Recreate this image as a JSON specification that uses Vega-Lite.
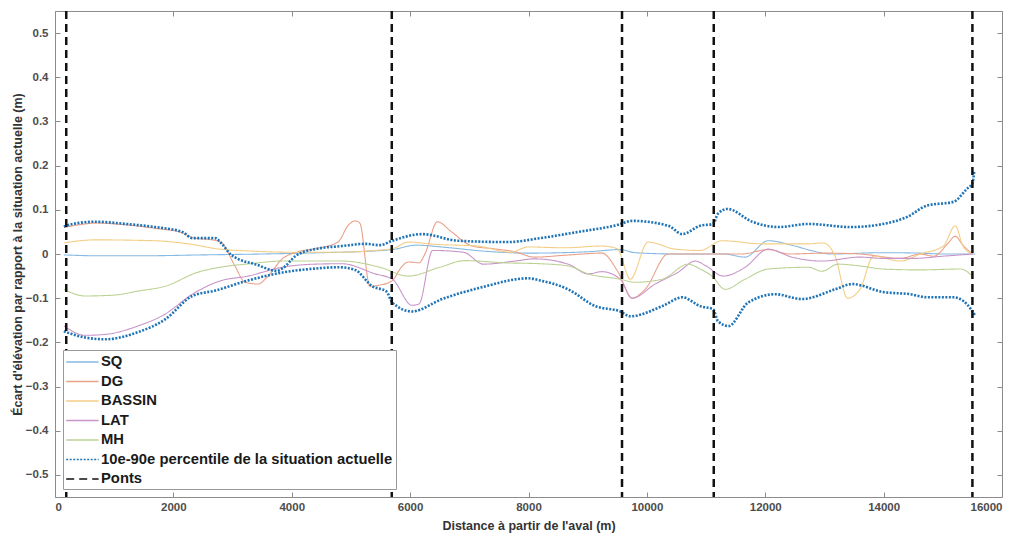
{
  "$schema": "https://vega.github.io/schema/vega-lite/v6.json",
  "width": 947,
  "height": 486,
  "autosize": "none",
  "padding": {"left": 55, "top": 11, "right": 19, "bottom": 41},
  "background": "white",
  "config": {"view": {"stroke": "#8c8c8c", "strokeWidth": 1}, "font": "Liberation Sans"},
  "datasets": {
    "lines": [
      {"s":"SQ","g":"SQ","x":150,"y":-0.002},{"s":"SQ","g":"SQ","x":700,"y":-0.004},{"s":"SQ","g":"SQ","x":1500,"y":-0.004},{"s":"SQ","g":"SQ","x":2500,"y":-0.002},{"s":"SQ","g":"SQ","x":3500,"y":0.0},{"s":"SQ","g":"SQ","x":4500,"y":0.003},{"s":"SQ","g":"SQ","x":5400,"y":0.007},{"s":"SQ","g":"SQ","x":5700,"y":0.01},{"s":"SQ","g":"SQ","x":6100,"y":0.02},{"s":"SQ","g":"SQ","x":6600,"y":0.015},{"s":"SQ","g":"SQ","x":7200,"y":0.007},{"s":"SQ","g":"SQ","x":8000,"y":0.002},{"s":"SQ","g":"SQ","x":9000,"y":0.005},{"s":"SQ","g":"SQ","x":9550,"y":0.01},{"s":"SQ","g":"SQ","x":9800,"y":0.003},{"s":"SQ","g":"SQ","x":10500,"y":0.0},{"s":"SQ","g":"SQ","x":11300,"y":0.0},{"s":"SQ","g":"SQ","x":11660,"y":-0.007},{"s":"SQ","g":"SQ","x":12050,"y":0.03},{"s":"SQ","g":"SQ","x":12500,"y":0.018},{"s":"SQ","g":"SQ","x":12800,"y":0.007},{"s":"SQ","g":"SQ","x":13100,"y":0.0},{"s":"SQ","g":"SQ","x":14000,"y":0.003},{"s":"SQ","g":"SQ","x":14600,"y":0.002},{"s":"SQ","g":"SQ","x":15000,"y":0.0},{"s":"SQ","g":"SQ","x":15550,"y":0.0},

      {"s":"DG","g":"DG","x":150,"y":0.06},{"s":"DG","g":"DG","x":400,"y":0.066},{"s":"DG","g":"DG","x":700,"y":0.07},{"s":"DG","g":"DG","x":1200,"y":0.066},{"s":"DG","g":"DG","x":1700,"y":0.058},{"s":"DG","g":"DG","x":2150,"y":0.048},{"s":"DG","g":"DG","x":2350,"y":0.036},{"s":"DG","g":"DG","x":2600,"y":0.033},{"s":"DG","g":"DG","x":2800,"y":0.027},{"s":"DG","g":"DG","x":3040,"y":-0.027},{"s":"DG","g":"DG","x":3210,"y":-0.064},{"s":"DG","g":"DG","x":3430,"y":-0.068},{"s":"DG","g":"DG","x":3600,"y":-0.05},{"s":"DG","g":"DG","x":3840,"y":-0.011},{"s":"DG","g":"DG","x":4100,"y":0.005},{"s":"DG","g":"DG","x":4400,"y":0.012},{"s":"DG","g":"DG","x":4780,"y":0.027},{"s":"DG","g":"DG","x":4950,"y":0.064},{"s":"DG","g":"DG","x":5070,"y":0.075},{"s":"DG","g":"DG","x":5150,"y":0.07},{"s":"DG","g":"DG","x":5320,"y":-0.073},{"s":"DG","g":"DG","x":5500,"y":-0.07},{"s":"DG","g":"DG","x":5700,"y":-0.06},{"s":"DG","g":"DG","x":5850,"y":-0.03},{"s":"DG","g":"DG","x":5970,"y":-0.018},{"s":"DG","g":"DG","x":6150,"y":-0.02},{"s":"DG","g":"DG","x":6250,"y":0.0},{"s":"DG","g":"DG","x":6460,"y":0.073},{"s":"DG","g":"DG","x":6700,"y":0.05},{"s":"DG","g":"DG","x":7050,"y":0.018},{"s":"DG","g":"DG","x":7400,"y":0.012},{"s":"DG","g":"DG","x":7770,"y":0.005},{"s":"DG","g":"DG","x":8100,"y":-0.007},{"s":"DG","g":"DG","x":8700,"y":-0.002},{"s":"DG","g":"DG","x":9240,"y":0.002},{"s":"DG","g":"DG","x":9510,"y":-0.04},{"s":"DG","g":"DG","x":9750,"y":-0.1},{"s":"DG","g":"DG","x":9970,"y":-0.08},{"s":"DG","g":"DG","x":10360,"y":0.0},{"s":"DG","g":"DG","x":10900,"y":0.0},{"s":"DG","g":"DG","x":11600,"y":0.0},{"s":"DG","g":"DG","x":12050,"y":0.01},{"s":"DG","g":"DG","x":12400,"y":0.0},{"s":"DG","g":"DG","x":13000,"y":0.002},{"s":"DG","g":"DG","x":13600,"y":0.0},{"s":"DG","g":"DG","x":14280,"y":-0.01},{"s":"DG","g":"DG","x":14620,"y":0.0},{"s":"DG","g":"DG","x":14850,"y":-0.005},{"s":"DG","g":"DG","x":15080,"y":0.023},{"s":"DG","g":"DG","x":15210,"y":0.04},{"s":"DG","g":"DG","x":15340,"y":0.02},{"s":"DG","g":"DG","x":15500,"y":0.0},

      {"s":"BASSIN","g":"BASSIN","x":150,"y":0.025},{"s":"BASSIN","g":"BASSIN","x":680,"y":0.032},{"s":"BASSIN","g":"BASSIN","x":1690,"y":0.03},{"s":"BASSIN","g":"BASSIN","x":2250,"y":0.023},{"s":"BASSIN","g":"BASSIN","x":2780,"y":0.011},{"s":"BASSIN","g":"BASSIN","x":3260,"y":0.007},{"s":"BASSIN","g":"BASSIN","x":4000,"y":0.004},{"s":"BASSIN","g":"BASSIN","x":4800,"y":0.004},{"s":"BASSIN","g":"BASSIN","x":5400,"y":0.008},{"s":"BASSIN","g":"BASSIN","x":5700,"y":0.012},{"s":"BASSIN","g":"BASSIN","x":5970,"y":0.027},{"s":"BASSIN","g":"BASSIN","x":6400,"y":0.022},{"s":"BASSIN","g":"BASSIN","x":7130,"y":0.018},{"s":"BASSIN","g":"BASSIN","x":7700,"y":0.004},{"s":"BASSIN","g":"BASSIN","x":7990,"y":0.016},{"s":"BASSIN","g":"BASSIN","x":8600,"y":0.014},{"s":"BASSIN","g":"BASSIN","x":9240,"y":0.018},{"s":"BASSIN","g":"BASSIN","x":9500,"y":0.012},{"s":"BASSIN","g":"BASSIN","x":9720,"y":-0.057},{"s":"BASSIN","g":"BASSIN","x":10020,"y":0.027},{"s":"BASSIN","g":"BASSIN","x":10480,"y":0.011},{"s":"BASSIN","g":"BASSIN","x":10900,"y":0.008},{"s":"BASSIN","g":"BASSIN","x":11270,"y":0.03},{"s":"BASSIN","g":"BASSIN","x":11950,"y":0.023},{"s":"BASSIN","g":"BASSIN","x":12730,"y":0.023},{"s":"BASSIN","g":"BASSIN","x":12980,"y":0.025},{"s":"BASSIN","g":"BASSIN","x":13180,"y":-0.005},{"s":"BASSIN","g":"BASSIN","x":13390,"y":-0.1},{"s":"BASSIN","g":"BASSIN","x":13600,"y":-0.08},{"s":"BASSIN","g":"BASSIN","x":13830,"y":-0.005},{"s":"BASSIN","g":"BASSIN","x":14280,"y":-0.016},{"s":"BASSIN","g":"BASSIN","x":14620,"y":0.0},{"s":"BASSIN","g":"BASSIN","x":15010,"y":0.018},{"s":"BASSIN","g":"BASSIN","x":15210,"y":0.064},{"s":"BASSIN","g":"BASSIN","x":15340,"y":0.018},{"s":"BASSIN","g":"BASSIN","x":15500,"y":0.0},

      {"s":"LAT","g":"LAT","x":150,"y":-0.163},{"s":"LAT","g":"LAT","x":510,"y":-0.184},{"s":"LAT","g":"LAT","x":845,"y":-0.182},{"s":"LAT","g":"LAT","x":1400,"y":-0.163},{"s":"LAT","g":"LAT","x":1860,"y":-0.136},{"s":"LAT","g":"LAT","x":2320,"y":-0.091},{"s":"LAT","g":"LAT","x":2790,"y":-0.061},{"s":"LAT","g":"LAT","x":3260,"y":-0.05},{"s":"LAT","g":"LAT","x":3840,"y":-0.03},{"s":"LAT","g":"LAT","x":4390,"y":-0.023},{"s":"LAT","g":"LAT","x":4850,"y":-0.022},{"s":"LAT","g":"LAT","x":5410,"y":-0.045},{"s":"LAT","g":"LAT","x":5700,"y":-0.057},{"s":"LAT","g":"LAT","x":6030,"y":-0.116},{"s":"LAT","g":"LAT","x":6150,"y":-0.113},{"s":"LAT","g":"LAT","x":6380,"y":0.008},{"s":"LAT","g":"LAT","x":6900,"y":0.004},{"s":"LAT","g":"LAT","x":7240,"y":-0.023},{"s":"LAT","g":"LAT","x":7770,"y":-0.016},{"s":"LAT","g":"LAT","x":8100,"y":-0.011},{"s":"LAT","g":"LAT","x":8670,"y":-0.023},{"s":"LAT","g":"LAT","x":9010,"y":-0.045},{"s":"LAT","g":"LAT","x":9240,"y":-0.04},{"s":"LAT","g":"LAT","x":9550,"y":-0.057},{"s":"LAT","g":"LAT","x":9750,"y":-0.1},{"s":"LAT","g":"LAT","x":10140,"y":-0.068},{"s":"LAT","g":"LAT","x":10530,"y":-0.041},{"s":"LAT","g":"LAT","x":10820,"y":-0.016},{"s":"LAT","g":"LAT","x":11000,"y":-0.027},{"s":"LAT","g":"LAT","x":11290,"y":-0.05},{"s":"LAT","g":"LAT","x":11660,"y":-0.03},{"s":"LAT","g":"LAT","x":12050,"y":0.011},{"s":"LAT","g":"LAT","x":12450,"y":-0.007},{"s":"LAT","g":"LAT","x":12960,"y":-0.016},{"s":"LAT","g":"LAT","x":13600,"y":-0.007},{"s":"LAT","g":"LAT","x":14000,"y":-0.01},{"s":"LAT","g":"LAT","x":14500,"y":-0.01},{"s":"LAT","g":"LAT","x":15000,"y":-0.005},{"s":"LAT","g":"LAT","x":15500,"y":0.0},

      {"s":"MH","g":"MH","x":150,"y":-0.08},{"s":"MH","g":"MH","x":510,"y":-0.095},{"s":"MH","g":"MH","x":1000,"y":-0.093},{"s":"MH","g":"MH","x":1400,"y":-0.084},{"s":"MH","g":"MH","x":1860,"y":-0.073},{"s":"MH","g":"MH","x":2420,"y":-0.041},{"s":"MH","g":"MH","x":2790,"y":-0.03},{"s":"MH","g":"MH","x":3300,"y":-0.022},{"s":"MH","g":"MH","x":3840,"y":-0.016},{"s":"MH","g":"MH","x":4850,"y":-0.016},{"s":"MH","g":"MH","x":5490,"y":-0.03},{"s":"MH","g":"MH","x":5970,"y":-0.05},{"s":"MH","g":"MH","x":6500,"y":-0.03},{"s":"MH","g":"MH","x":6930,"y":-0.015},{"s":"MH","g":"MH","x":7600,"y":-0.02},{"s":"MH","g":"MH","x":8200,"y":-0.022},{"s":"MH","g":"MH","x":8670,"y":-0.027},{"s":"MH","g":"MH","x":9010,"y":-0.045},{"s":"MH","g":"MH","x":9550,"y":-0.057},{"s":"MH","g":"MH","x":9800,"y":-0.064},{"s":"MH","g":"MH","x":10260,"y":-0.057},{"s":"MH","g":"MH","x":10700,"y":-0.023},{"s":"MH","g":"MH","x":10900,"y":-0.034},{"s":"MH","g":"MH","x":11100,"y":-0.05},{"s":"MH","g":"MH","x":11320,"y":-0.08},{"s":"MH","g":"MH","x":11660,"y":-0.057},{"s":"MH","g":"MH","x":12050,"y":-0.034},{"s":"MH","g":"MH","x":12730,"y":-0.03},{"s":"MH","g":"MH","x":12960,"y":-0.039},{"s":"MH","g":"MH","x":13230,"y":-0.023},{"s":"MH","g":"MH","x":13600,"y":-0.027},{"s":"MH","g":"MH","x":13990,"y":-0.034},{"s":"MH","g":"MH","x":14600,"y":-0.036},{"s":"MH","g":"MH","x":15300,"y":-0.034},{"s":"MH","g":"MH","x":15500,"y":-0.05},

      {"s":"10e-90e percentile de la situation actuelle","g":"p90","x":150,"y":0.062},{"s":"10e-90e percentile de la situation actuelle","g":"p90","x":300,"y":0.068},{"s":"10e-90e percentile de la situation actuelle","g":"p90","x":680,"y":0.073},{"s":"10e-90e percentile de la situation actuelle","g":"p90","x":1200,"y":0.068},{"s":"10e-90e percentile de la situation actuelle","g":"p90","x":1690,"y":0.061},{"s":"10e-90e percentile de la situation actuelle","g":"p90","x":2150,"y":0.05},{"s":"10e-90e percentile de la situation actuelle","g":"p90","x":2320,"y":0.036},{"s":"10e-90e percentile de la situation actuelle","g":"p90","x":2700,"y":0.036},{"s":"10e-90e percentile de la situation actuelle","g":"p90","x":2820,"y":0.023},{"s":"10e-90e percentile de la situation actuelle","g":"p90","x":2960,"y":0.0},{"s":"10e-90e percentile de la situation actuelle","g":"p90","x":3090,"y":-0.011},{"s":"10e-90e percentile de la situation actuelle","g":"p90","x":3380,"y":-0.023},{"s":"10e-90e percentile de la situation actuelle","g":"p90","x":3750,"y":-0.038},{"s":"10e-90e percentile de la situation actuelle","g":"p90","x":3850,"y":-0.032},{"s":"10e-90e percentile de la situation actuelle","g":"p90","x":4060,"y":-0.005},{"s":"10e-90e percentile de la situation actuelle","g":"p90","x":4390,"y":0.011},{"s":"10e-90e percentile de la situation actuelle","g":"p90","x":4850,"y":0.018},{"s":"10e-90e percentile de la situation actuelle","g":"p90","x":5240,"y":0.023},{"s":"10e-90e percentile de la situation actuelle","g":"p90","x":5490,"y":0.02},{"s":"10e-90e percentile de la situation actuelle","g":"p90","x":5700,"y":0.03},{"s":"10e-90e percentile de la situation actuelle","g":"p90","x":6200,"y":0.045},{"s":"10e-90e percentile de la situation actuelle","g":"p90","x":6810,"y":0.03},{"s":"10e-90e percentile de la situation actuelle","g":"p90","x":7650,"y":0.027},{"s":"10e-90e percentile de la situation actuelle","g":"p90","x":8200,"y":0.036},{"s":"10e-90e percentile de la situation actuelle","g":"p90","x":8840,"y":0.05},{"s":"10e-90e percentile de la situation actuelle","g":"p90","x":9510,"y":0.066},{"s":"10e-90e percentile de la situation actuelle","g":"p90","x":9750,"y":0.075},{"s":"10e-90e percentile de la situation actuelle","g":"p90","x":10360,"y":0.064},{"s":"10e-90e percentile de la situation actuelle","g":"p90","x":10600,"y":0.045},{"s":"10e-90e percentile de la situation actuelle","g":"p90","x":10900,"y":0.064},{"s":"10e-90e percentile de la situation actuelle","g":"p90","x":11120,"y":0.068},{"s":"10e-90e percentile de la situation actuelle","g":"p90","x":11200,"y":0.091},{"s":"10e-90e percentile de la situation actuelle","g":"p90","x":11360,"y":0.102},{"s":"10e-90e percentile de la situation actuelle","g":"p90","x":11780,"y":0.073},{"s":"10e-90e percentile de la situation actuelle","g":"p90","x":12220,"y":0.061},{"s":"10e-90e percentile de la situation actuelle","g":"p90","x":12730,"y":0.068},{"s":"10e-90e percentile de la situation actuelle","g":"p90","x":13440,"y":0.061},{"s":"10e-90e percentile de la situation actuelle","g":"p90","x":13990,"y":0.068},{"s":"10e-90e percentile de la situation actuelle","g":"p90","x":14400,"y":0.084},{"s":"10e-90e percentile de la situation actuelle","g":"p90","x":14740,"y":0.11},{"s":"10e-90e percentile de la situation actuelle","g":"p90","x":15180,"y":0.118},{"s":"10e-90e percentile de la situation actuelle","g":"p90","x":15410,"y":0.148},{"s":"10e-90e percentile de la situation actuelle","g":"p90","x":15500,"y":0.16},{"s":"10e-90e percentile de la situation actuelle","g":"p90","x":15530,"y":0.186},

      {"s":"10e-90e percentile de la situation actuelle","g":"p10","x":150,"y":-0.175},{"s":"10e-90e percentile de la situation actuelle","g":"p10","x":510,"y":-0.189},{"s":"10e-90e percentile de la situation actuelle","g":"p10","x":845,"y":-0.193},{"s":"10e-90e percentile de la situation actuelle","g":"p10","x":1400,"y":-0.177},{"s":"10e-90e percentile de la situation actuelle","g":"p10","x":1860,"y":-0.148},{"s":"10e-90e percentile de la situation actuelle","g":"p10","x":2320,"y":-0.095},{"s":"10e-90e percentile de la situation actuelle","g":"p10","x":2700,"y":-0.083},{"s":"10e-90e percentile de la situation actuelle","g":"p10","x":3260,"y":-0.06},{"s":"10e-90e percentile de la situation actuelle","g":"p10","x":3840,"y":-0.042},{"s":"10e-90e percentile de la situation actuelle","g":"p10","x":4390,"y":-0.033},{"s":"10e-90e percentile de la situation actuelle","g":"p10","x":4800,"y":-0.03},{"s":"10e-90e percentile de la situation actuelle","g":"p10","x":5070,"y":-0.036},{"s":"10e-90e percentile de la situation actuelle","g":"p10","x":5360,"y":-0.073},{"s":"10e-90e percentile de la situation actuelle","g":"p10","x":5600,"y":-0.085},{"s":"10e-90e percentile de la situation actuelle","g":"p10","x":5700,"y":-0.11},{"s":"10e-90e percentile de la situation actuelle","g":"p10","x":6030,"y":-0.13},{"s":"10e-90e percentile de la situation actuelle","g":"p10","x":6540,"y":-0.102},{"s":"10e-90e percentile de la situation actuelle","g":"p10","x":7220,"y":-0.075},{"s":"10e-90e percentile de la situation actuelle","g":"p10","x":7990,"y":-0.055},{"s":"10e-90e percentile de la situation actuelle","g":"p10","x":8200,"y":-0.06},{"s":"10e-90e percentile de la situation actuelle","g":"p10","x":8670,"y":-0.08},{"s":"10e-90e percentile de la situation actuelle","g":"p10","x":9130,"y":-0.118},{"s":"10e-90e percentile de la situation actuelle","g":"p10","x":9550,"y":-0.13},{"s":"10e-90e percentile de la situation actuelle","g":"p10","x":9720,"y":-0.141},{"s":"10e-90e percentile de la situation actuelle","g":"p10","x":10260,"y":-0.118},{"s":"10e-90e percentile de la situation actuelle","g":"p10","x":10600,"y":-0.098},{"s":"10e-90e percentile de la situation actuelle","g":"p10","x":10900,"y":-0.118},{"s":"10e-90e percentile de la situation actuelle","g":"p10","x":11120,"y":-0.125},{"s":"10e-90e percentile de la situation actuelle","g":"p10","x":11200,"y":-0.152},{"s":"10e-90e percentile de la situation actuelle","g":"p10","x":11380,"y":-0.163},{"s":"10e-90e percentile de la situation actuelle","g":"p10","x":11710,"y":-0.11},{"s":"10e-90e percentile de la situation actuelle","g":"p10","x":12170,"y":-0.091},{"s":"10e-90e percentile de la situation actuelle","g":"p10","x":12620,"y":-0.102},{"s":"10e-90e percentile de la situation actuelle","g":"p10","x":13180,"y":-0.08},{"s":"10e-90e percentile de la situation actuelle","g":"p10","x":13470,"y":-0.068},{"s":"10e-90e percentile de la situation actuelle","g":"p10","x":13990,"y":-0.086},{"s":"10e-90e percentile de la situation actuelle","g":"p10","x":14450,"y":-0.091},{"s":"10e-90e percentile de la situation actuelle","g":"p10","x":14740,"y":-0.098},{"s":"10e-90e percentile de la situation actuelle","g":"p10","x":15180,"y":-0.098},{"s":"10e-90e percentile de la situation actuelle","g":"p10","x":15410,"y":-0.114},{"s":"10e-90e percentile de la situation actuelle","g":"p10","x":15550,"y":-0.14}
    ],
    "ponts": [
      {"s":"Ponts","x":190},{"s":"Ponts","x":5690},{"s":"Ponts","x":9580},{"s":"Ponts","x":11130},{"s":"Ponts","x":15500}
    ]
  },
  "resolve": {"axis": {"x": "independent", "y": "independent"}},
  "layer": [
    {
      "data": {"name": "lines"},
      "mark": {"type": "line", "interpolate": "monotone", "strokeCap": "butt"},
      "encoding": {
        "x": {"field": "x", "type": "quantitative", "scale": {"domain": [0, 16000], "nice": false, "zero": false},
          "axis": {"title": "Distance à partir de l'aval (m)", "values": [0,2000,4000,6000,8000,10000,12000,14000,16000], "format": "d",
            "grid": false, "domain": false, "tickSize": -5, "tickColor": "#8c8c8c", "labelPadding": 9,
            "labelFont": "Liberation Sans", "labelFontSize": 11.5, "labelFontWeight": "bold", "labelColor": "#4d4d4d",
            "titleFont": "Liberation Sans", "titleFontSize": 12.5, "titleFontWeight": "bold", "titleColor": "#333333", "titlePadding": 7}},
        "y": {"field": "y", "type": "quantitative", "scale": {"domain": [-0.55, 0.55], "nice": false, "zero": false},
          "axis": {"title": "Écart d'élévation par rapport à la situation actuelle (m)", "values": [-0.5,-0.4,-0.3,-0.2,-0.1,0,0.1,0.2,0.3,0.4,0.5], "format": ".1~f",
            "grid": false, "domain": false, "tickSize": -5, "tickColor": "#8c8c8c", "labelPadding": 12,
            "labelFont": "Liberation Sans", "labelFontSize": 11.5, "labelFontWeight": "bold", "labelColor": "#4d4d4d",
            "titleFont": "Liberation Sans", "titleFontSize": 12.5, "titleFontWeight": "bold", "titleColor": "#333333", "titlePadding": 1}},
        "color": {"field": "s", "type": "nominal",
          "scale": {"domain": ["SQ","DG","BASSIN","LAT","MH","10e-90e percentile de la situation actuelle","Ponts"],
                    "range": ["#86b9e3","#eba088","#f3cd85","#c995c9","#bcd294","#1f74b8","#111111"]},
          "legend": {"title": null, "orient": "bottom-left", "offset": 8, "symbolType": "M-1.1,0H2.95", "symbolSize": 256,
            "labelFont": "Liberation Sans", "labelFontSize": 14.8, "labelFontWeight": "bold", "labelColor": "#1a1a1a",
            "fillColor": "white", "strokeColor": "#999999", "padding": 3, "rowPadding": 3.5, "labelOffset": 17, "labelLimit": 400}},
        "strokeDash": {"field": "s", "type": "nominal",
          "scale": {"domain": ["SQ","DG","BASSIN","LAT","MH","10e-90e percentile de la situation actuelle","Ponts"],
                    "range": [[1,0],[1,0],[1,0],[1,0],[1,0],[2,1.5],[8,5]]}},
        "strokeWidth": {"field": "s", "type": "nominal",
          "scale": {"type": "ordinal", "domain": ["SQ","DG","BASSIN","LAT","MH","10e-90e percentile de la situation actuelle","Ponts"],
                    "range": [1.1,1.1,1.1,1.1,1.1,2.6,2.5]},
          "legend": null},
        "detail": {"field": "g", "type": "nominal"}
      }
    },
    {
      "data": {"name": "ponts"},
      "mark": {"type": "rule", "strokeCap": "butt"},
      "encoding": {
        "x": {"field": "x", "type": "quantitative", "axis": null},
        "color": {"field": "s", "type": "nominal"},
        "strokeDash": {"field": "s", "type": "nominal"},
        "strokeWidth": {"field": "s", "type": "nominal", "legend": null}
      }
    },
    {
      "data": {"name": "ponts"},
      "mark": {"type": "point", "opacity": 0},
      "encoding": {
        "x": {"field": "x", "type": "quantitative",
          "axis": {"orient": "top", "title": null, "labels": false, "values": [0,2000,4000,6000,8000,10000,12000,14000,16000], "grid": false, "domain": false, "tickSize": -5, "tickColor": "#8c8c8c"}},
        "y": {"datum": 0, "type": "quantitative",
          "axis": {"orient": "right", "title": null, "labels": false, "values": [-0.5,-0.4,-0.3,-0.2,-0.1,0,0.1,0.2,0.3,0.4,0.5], "grid": false, "domain": false, "tickSize": -5, "tickColor": "#8c8c8c"}}
      }
    }
  ]
}
